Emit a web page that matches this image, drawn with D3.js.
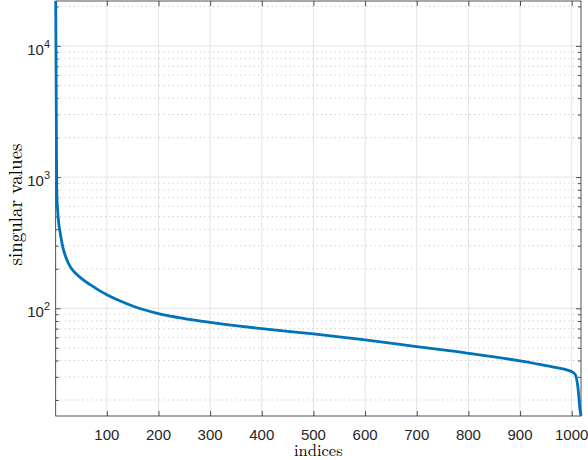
<!DOCTYPE html>
<html><head><meta charset="utf-8">
<script src="https://cdn.jsdelivr.net/npm/d3@7"></script>
<style>body{margin:0;background:#fff}svg{display:block}</style>
</head><body>
<script>
// Data: index -> singular value
const indices = [1, 2, 3, 4, 5, 7, 10, 15, 22, 30, 40, 50, 67, 85, 100, 125, 150, 196, 250, 300, 357, 400, 500, 600, 700, 800, 900, 950, 1000, 1007, 1012, 1016, 1018];
const singularValues = [22000, 4000, 800, 620, 540, 440, 370, 290, 238, 205, 184, 170, 152, 137, 127, 114, 104, 92, 83.5, 78, 73, 70, 63.8, 57.5, 51, 45.4, 39.7, 36.5, 32.9, 31.2, 25, 17, 15.1];
const xTicks = [100, 200, 300, 400, 500, 600, 700, 800, 900, 1000];
const yTicks = [100, 1000, 10000];
const yExponents = ["2", "3", "4"];
const yMinor = [20,30,40,50,60,70,80,90,200,300,400,500,600,700,800,900,2000,3000,4000,5000,6000,7000,8000,9000,20000];

const W = 588, H = 460;
const PL = 55.7, PR = 581, PT = 1, PB = 416;
const svg = d3.select("body").append("svg").attr("width", W).attr("height", H);

const x = d3.scaleLinear().domain([1, 1018]).range([PL, PR]);
const y = d3.scaleLog().domain([15.1, 22000]).range([PB, PT]);

const grid = svg.append("g");
// minor grid (dotted)
grid.selectAll(".ymg").data(yMinor).enter().append("line")
  .attr("x1", PL).attr("x2", PR).attr("y1", d => y(d)).attr("y2", d => y(d))
  .attr("stroke", "#bdbdbd").attr("stroke-width", 1).attr("stroke-dasharray", "1,3.5");
// major grid
grid.selectAll(".xg").data(xTicks).enter().append("line")
  .attr("x1", d => x(d)).attr("x2", d => x(d)).attr("y1", PT).attr("y2", PB)
  .attr("stroke", "#e3e3e3").attr("stroke-width", 1);
grid.selectAll(".yg").data(yTicks).enter().append("line")
  .attr("x1", PL).attr("x2", PR).attr("y1", d => y(d)).attr("y2", d => y(d))
  .attr("stroke", "#e3e3e3").attr("stroke-width", 1);

// axes with inward ticks
const axCol = "#262626";
const axB = svg.append("g").attr("transform", `translate(0,${PB})`)
  .call(d3.axisBottom(x).tickValues(xTicks).tickSize(-5).tickFormat(""));
const axT = svg.append("g").attr("transform", `translate(0,${PT})`)
  .call(d3.axisTop(x).tickValues(xTicks).tickSize(-5).tickFormat(""));
const axL = svg.append("g").attr("transform", `translate(${PL},0)`)
  .call(d3.axisLeft(y).tickValues(yTicks).tickSize(-5).tickFormat(""));
const axR = svg.append("g").attr("transform", `translate(${PR},0)`)
  .call(d3.axisRight(y).tickValues(yTicks).tickSize(-5).tickFormat(""));
const axLm = svg.append("g").attr("transform", `translate(${PL},0)`)
  .call(d3.axisLeft(y).tickValues(yMinor).tickSize(-3).tickFormat(""));
const axRm = svg.append("g").attr("transform", `translate(${PR},0)`)
  .call(d3.axisRight(y).tickValues(yMinor).tickSize(-3).tickFormat(""));
[axB, axT, axL, axR, axLm, axRm].forEach(a => {
  a.select(".domain").remove();
  a.selectAll("line").attr("stroke", axCol).attr("stroke-width", 0.8);
});
svg.append("rect").attr("x", PL).attr("y", PT).attr("width", PR - PL).attr("height", PB - PT)
  .attr("fill", "none").attr("stroke", axCol).attr("stroke-width", 0.8);

// the curve
const line = d3.line().x((d, i) => x(indices[i])).y(d => y(d)).curve(d3.curveMonotoneX);
svg.append("path").datum(singularValues).attr("d", line)
  .attr("fill", "none").attr("stroke", "#0072BD").attr("stroke-width", 2.8)
  .attr("stroke-linejoin", "round");

// tick labels
const font = "'Liberation Sans', Arial, Helvetica, sans-serif";
svg.selectAll(".xl").data(xTicks).enter().append("text")
  .attr("x", d => x(d)).attr("y", 440).attr("text-anchor", "middle")
  .attr("font-family", font).attr("font-size", 15).attr("fill", axCol).text(d => d);
const yl = svg.selectAll(".yl").data(yTicks).enter().append("text")
  .attr("x", 50).attr("y", d => y(d) + 9).attr("text-anchor", "end")
  .attr("font-family", font).attr("font-size", 15).attr("fill", axCol);
yl.append("tspan").text("10");
yl.append("tspan").attr("font-size", 11).attr("dy", -7).text((d, i) => yExponents[i]);

// axis titles
const serif = "'Latin Modern Roman', 'CMU Serif', 'Liberation Serif', 'Times New Roman', serif";
svg.append("text").attr("x", (PL + PR) / 2).attr("y", 456).attr("text-anchor", "middle")
  .attr("font-family", serif).attr("font-size", 16.5).attr("fill", "#000").text("indices");
svg.append("text").attr("transform", `translate(22,${(PT + PB) / 2 - 4}) rotate(-90)`)
  .attr("text-anchor", "middle").attr("font-family", serif).attr("font-size", 19)
  .attr("fill", "#000").text("singular values");
</script>
</body></html>
